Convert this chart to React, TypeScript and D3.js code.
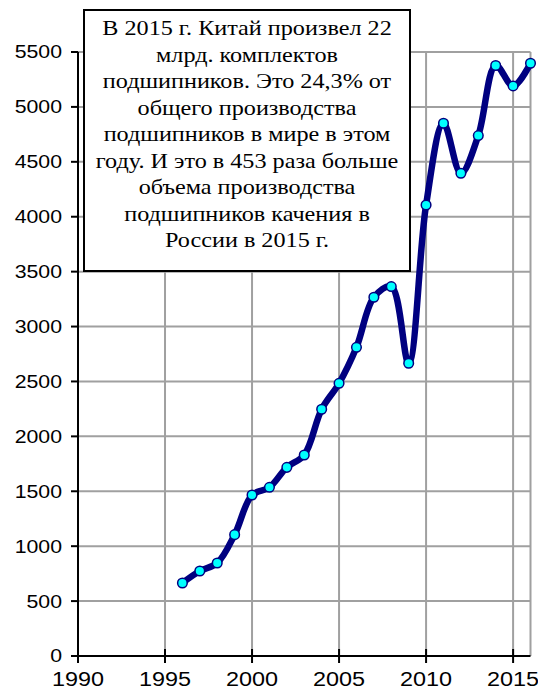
import React, { useEffect, useRef } from "react";
import * as d3 from "d3";

// production of bearings in China, bln pcs
const years = [1996, 1997, 1998, 1999, 2000, 2001, 2002, 2003, 2004, 2005, 2006,
  2007, 2008, 2009, 2010, 2011, 2012, 2013, 2014, 2015, 2016];
const values = [665, 774, 847, 1105, 1466, 1536, 1718, 1830, 2247, 2483, 2811,
  3267, 3364, 2666, 4107, 4851, 4396, 4739, 5377, 5191, 5398];

const yTicks = [0, 500, 1000, 1500, 2000, 2500, 3000, 3500, 4000, 4500, 5000, 5500];
const xTicks = [1990, 1995, 2000, 2005, 2010, 2015];

const noteLines = [
  "В 2015 г. Китай произвел 22",
  "млрд. комплектов",
  "подшипников. Это 24,3% от",
  "общего производства",
  "подшипников в мире в этом",
  "году. И это в 453 раза больше",
  "объема производства",
  "подшипников качения в",
  "России в 2015 г.",
];

const App = () => {
  const ref = useRef<SVGSVGElement>(null);

  useEffect(() => {
    const width = 538;
    const height = 691;
    const svg = d3.select(ref.current).attr("width", width).attr("height", height);
    svg.selectAll("*").remove();

    const x = d3.scaleLinear().domain([1990, 2016]).range([78, 530.5]);
    const y = d3.scaleLinear().domain([0, 5500]).range([656, 52]);

    // grid
    const grid = svg.append("g").attr("stroke", "#a0a0a0").attr("stroke-width", 2);
    grid.selectAll("line.h")
      .data(yTicks.slice(1))
      .enter()
      .append("line")
      .attr("x1", x(1990))
      .attr("x2", x(2016))
      .attr("y1", (d) => y(d))
      .attr("y2", (d) => y(d));
    grid.selectAll("line.v")
      .data(xTicks.slice(1).concat([2016]))
      .enter()
      .append("line")
      .attr("x1", (d) => x(d))
      .attr("x2", (d) => x(d))
      .attr("y1", y(0))
      .attr("y2", y(5500));

    // axes
    const axes = svg.append("g").attr("stroke", "#000").attr("stroke-width", 2);
    axes.append("line").attr("x1", x(1990)).attr("x2", x(1990)).attr("y1", y(0)).attr("y2", y(5500));
    axes.append("line").attr("x1", x(1990)).attr("x2", x(2016)).attr("y1", y(0)).attr("y2", y(0));
    axes.selectAll("line.yt")
      .data(yTicks)
      .enter()
      .append("line")
      .attr("x1", x(1990) - 7)
      .attr("x2", x(1990))
      .attr("y1", (d) => y(d))
      .attr("y2", (d) => y(d));
    axes.selectAll("line.xt")
      .data(xTicks)
      .enter()
      .append("line")
      .attr("x1", (d) => x(d))
      .attr("x2", (d) => x(d))
      .attr("y1", y(0) - 7)
      .attr("y2", y(0) + 7);

    const font = "Liberation Sans, Arial, sans-serif";
    svg.append("g")
      .selectAll("g")
      .data(yTicks)
      .enter()
      .append("g")
      .attr("transform", (d) => `translate(${x(1990) - 16},${y(d)}) scale(1.15,1)`)
      .append("text")
      .attr("text-anchor", "end")
      .attr("dy", "0.35em")
      .attr("font-family", font)
      .attr("font-size", 18.5)
      .text((d) => d);

    svg.append("g")
      .selectAll("g")
      .data(xTicks)
      .enter()
      .append("g")
      .attr("transform", (d) => `translate(${x(d)},${y(0) + 30}) scale(1.2,1)`)
      .append("text")
      .attr("text-anchor", "middle")
      .attr("font-family", font)
      .attr("font-size", 19.5)
      .text((d) => d);

    // series
    const pts = years.map((yr, i) => [yr, values[i]] as [number, number]);
    const line = d3.line<[number, number]>()
      .x((d) => x(d[0]))
      .y((d) => y(d[1]))
      .curve(d3.curveCatmullRom.alpha(0.5));
    svg.append("path")
      .datum(pts)
      .attr("d", line)
      .attr("fill", "none")
      .attr("stroke", "#000080")
      .attr("stroke-width", 6.5)
      .attr("stroke-linejoin", "round");
    svg.selectAll("circle")
      .data(pts)
      .enter()
      .append("circle")
      .attr("cx", (d) => x(d[0]))
      .attr("cy", (d) => y(d[1]))
      .attr("r", 4.8)
      .attr("fill", "#00ffff")
      .attr("stroke", "#000080")
      .attr("stroke-width", 1.5);

    // note box
    const note = svg.append("g");
    note.append("rect")
      .attr("x", 84)
      .attr("y", 10)
      .attr("width", 326)
      .attr("height", 261)
      .attr("fill", "#fff")
      .attr("stroke", "#000")
      .attr("stroke-width", 2);
    note.selectAll("g")
      .data(noteLines)
      .enter()
      .append("g")
      .attr("transform", (d, i) => `translate(247,${35 + i * 26.5}) scale(1.1,1)`)
      .append("text")
      .attr("text-anchor", "middle")
      .attr("font-family", "Liberation Serif, Times New Roman, serif")
      .attr("font-size", 22)
      .text((d) => d);
  }, []);

  return (
    <div style={{ position: "absolute", left: 0, top: 0 }}>
      <svg ref={ref} style={{ display: "block" }}></svg>
    </div>
  );
};

export default App;
